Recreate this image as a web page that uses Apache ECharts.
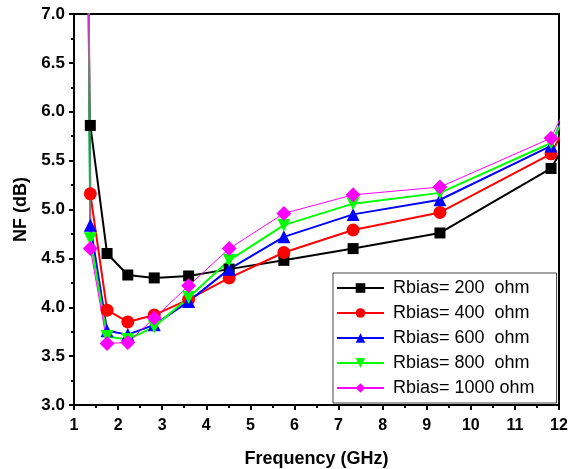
<!DOCTYPE html>
<html>
<head>
<meta charset="utf-8">
<script src="https://cdn.jsdelivr.net/npm/echarts@6/dist/echarts.min.js"></script>
<style>
html, body { margin: 0; padding: 0; background: #fff; }
#main { width: 574px; height: 469px; }
</style>
</head>
<body>
<div id="main"></div>
<script>
// frequency points (GHz); colored curves start with a spike above the plot
var freqBlack = [1.37, 1.75, 2.22, 2.82, 3.6, 4.52, 5.76, 7.33, 9.3, 11.82, 12.05];
var freqColor = [1.32, 1.37, 1.75, 2.22, 2.82, 3.6, 4.52, 5.76, 7.33, 9.3, 11.82, 12.05];

var nf200  = [5.86, 4.55, 4.33, 4.30, 4.32, 4.39, 4.48, 4.60, 4.76, 5.42, 5.60];
var nf400  = [7.8, 5.16, 3.97, 3.85, 3.92, 4.08, 4.30, 4.56, 4.79, 4.97, 5.57, 5.77];
var nf600  = [7.8, 4.84, 3.76, 3.72, 3.82, 4.06, 4.39, 4.72, 4.95, 5.10, 5.65, 5.90];
var nf800  = [7.8, 4.70, 3.70, 3.67, 3.80, 4.10, 4.48, 4.84, 5.06, 5.17, 5.68, 5.88];
var nf1000 = [7.8, 4.60, 3.63, 3.64, 3.89, 4.22, 4.60, 4.96, 5.15, 5.23, 5.73, 5.95];

var names = ['Rbias= 200  ohm', 'Rbias= 400  ohm', 'Rbias= 600  ohm', 'Rbias= 800  ohm', 'Rbias= 1000 ohm'];

function pairs(xs, ys) {
	var out = [];
	for (var i = 0; i < ys.length; i++) out.push([xs[i], ys[i]]);
	return out;
}

var chart = echarts.init(document.getElementById('main'));
var fontFam = '"Liberation Sans", Arial, sans-serif';

chart.setOption({
	animation: false,
	grid: { left: 74, right: 15, top: 14, bottom: 64, outerBoundsMode: 'none',
		show: true, borderColor: '#000', borderWidth: 2 },
	legend: {
		orient: 'vertical',
		left: 333, top: 273,
		padding: [6, 22, 6, 3],
		itemGap: 7,
		itemWidth: 47, itemHeight: 12,
		borderColor: '#444', borderWidth: 1,
		backgroundColor: '#fff',
		textStyle: { fontFamily: fontFam, fontSize: 18, lineHeight: 18, color: '#000', padding: [0, 0, 0, 4] },
		data: names
	},
	xAxis: {
		type: 'value', min: 1, max: 12, interval: 1,
		name: 'Frequency (GHz)', nameLocation: 'middle', nameGap: 45,
		nameTextStyle: { fontFamily: fontFam, fontSize: 18, fontWeight: 'bold', color: '#000' },
		axisLine: { lineStyle: { color: '#000', width: 2 } },
		axisTick: { length: 5, lineStyle: { color: '#000', width: 2 } },
		minorTick: { show: true, splitNumber: 2, length: 3, lineStyle: { color: '#000', width: 2 } },
		splitLine: { show: false },
		axisLabel: { fontFamily: fontFam, fontSize: 16, fontWeight: 'bold', color: '#000', margin: 13 }
	},
	yAxis: {
		type: 'value', min: 3, max: 7, interval: 0.5,
		name: 'NF (dB)', nameLocation: 'middle', nameGap: 44,
		nameTextStyle: { fontFamily: fontFam, fontSize: 18, fontWeight: 'bold', color: '#000' },
		axisLine: { lineStyle: { color: '#000', width: 2 } },
		axisTick: { length: 5, lineStyle: { color: '#000', width: 2 } },
		minorTick: { show: true, splitNumber: 2, length: 3, lineStyle: { color: '#000', width: 2 } },
		splitLine: { show: false },
		axisLabel: { fontFamily: fontFam, fontSize: 17, fontWeight: 'bold', color: '#000', margin: 9,
			formatter: function (v) { return v.toFixed(1); } }
	},
	series: [
		{ name: names[0], type: 'line', data: pairs(freqBlack, nf200), symbol: 'rect', symbolSize: 11,
			color: '#000', lineStyle: { width: 2 } },
		{ name: names[1], type: 'line', data: pairs(freqColor, nf400), symbol: 'circle', symbolSize: 13,
			color: '#ff0000', lineStyle: { width: 2 } },
		{ name: names[2], type: 'line', data: pairs(freqColor, nf600), symbol: 'triangle', symbolSize: 13,
			color: '#0000ff', lineStyle: { width: 2 } },
		{ name: names[3], type: 'line', data: pairs(freqColor, nf800), symbol: 'triangle', symbolRotate: 180, symbolSize: 13,
			color: '#00ff00', lineStyle: { width: 2 } },
		{ name: names[4], type: 'line', data: pairs(freqColor, nf1000), symbol: 'diamond', symbolSize: 15,
			color: '#ff00ff', lineStyle: { width: 1 } }
	]
});
</script>
</body>
</html>
